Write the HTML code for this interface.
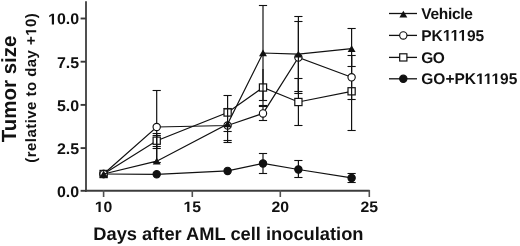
<!DOCTYPE html><html><head><meta charset="utf-8"><style>html,body{margin:0;padding:0;background:#fff;width:520px;height:246px;overflow:hidden}svg{display:block;will-change:transform}text{font-family:"Liberation Sans",sans-serif;font-weight:bold;fill:#111;text-rendering:geometricPrecision}.o{fill:transparent}</style></head><body>
<svg width="520" height="246" viewBox="0 0 520 246">
<g stroke="#505050" stroke-width="2" fill="none">
<line x1="86.0" y1="1.2" x2="86.0" y2="191.7"/>
<line x1="85.0" y1="190.7" x2="369.6" y2="190.7" stroke="#3c3c3c"/>
<line x1="80.6" y1="18.5" x2="86" y2="18.5" stroke="#383838" stroke-width="1.9"/>
<line x1="80.6" y1="61.7" x2="86" y2="61.7" stroke="#383838" stroke-width="1.9"/>
<line x1="80.6" y1="104.9" x2="86" y2="104.9" stroke="#383838" stroke-width="1.9"/>
<line x1="80.6" y1="148.1" x2="86" y2="148.1" stroke="#383838" stroke-width="1.9"/>
<line x1="80.6" y1="190.8" x2="86" y2="190.8" stroke="#383838" stroke-width="1.9"/>
<line x1="103.6" y1="190" x2="103.6" y2="197" stroke-width="1.6"/>
<line x1="192.3" y1="190" x2="192.3" y2="197" stroke-width="1.6"/>
<line x1="280.3" y1="190" x2="280.3" y2="197" stroke-width="1.6"/>
<line x1="369.3" y1="190" x2="369.3" y2="197" stroke-width="1.6"/>
</g>
<g transform="translate(79.2,24.4) scale(1.03,1)"><text id="t1" x="0" y="0" font-size="15.5" text-anchor="end"><tspan class="o">1</tspan>0.0</text><path d="M478,0 L478,1170 L140,959 L140,1180 L493,1409 L759,1409 L759,0 Z" transform="translate(-30.19,0.00) scale(0.007568,-0.007568)" fill="#111"/></g>
<g transform="translate(79.2,67.60000000000001) scale(1.03,1)"><text id="t2" x="0" y="0" font-size="15.5" text-anchor="end">7.5</text></g>
<g transform="translate(79.2,110.80000000000001) scale(1.03,1)"><text id="t3" x="0" y="0" font-size="15.5" text-anchor="end">5.0</text></g>
<g transform="translate(79.2,154.0) scale(1.03,1)"><text id="t4" x="0" y="0" font-size="15.5" text-anchor="end">2.5</text></g>
<g transform="translate(79.2,196.70000000000002) scale(1.03,1)"><text id="t5" x="0" y="0" font-size="15.5" text-anchor="end">0.0</text></g>
<g transform="translate(103.6,212.1) scale(1.04,1)"><text id="t6" x="0" y="0" font-size="15.2" text-anchor="middle"><tspan class="o">1</tspan>0</text><path d="M478,0 L478,1170 L140,959 L140,1180 L493,1409 L759,1409 L759,0 Z" transform="translate(-8.45,0.00) scale(0.007422,-0.007422)" fill="#111"/></g>
<g transform="translate(192.3,212.1) scale(1.04,1)"><text id="t7" x="0" y="0" font-size="15.2" text-anchor="middle"><tspan class="o">1</tspan>5</text><path d="M478,0 L478,1170 L140,959 L140,1180 L493,1409 L759,1409 L759,0 Z" transform="translate(-8.45,0.00) scale(0.007422,-0.007422)" fill="#111"/></g>
<g transform="translate(280.3,212.1) scale(1.04,1)"><text id="t8" x="0" y="0" font-size="15.2" text-anchor="middle">20</text></g>
<g transform="translate(369.3,212.1) scale(1.04,1)"><text id="t9" x="0" y="0" font-size="15.2" text-anchor="middle">25</text></g>
<g><text id="t10" x="93.3" y="240.3" font-size="18.3">Days after AML cell inoculation</text></g>
<g transform="translate(16.1,142.3) rotate(-90)"><text id="t11" x="0" y="0" font-size="20.5">Tumor size</text></g>
<g transform="translate(36.2,162.7) rotate(-90)"><text id="t12" x="0" y="0" font-size="15" letter-spacing="0.45">(relative to day +<tspan class="o">1</tspan>0)</text><path d="M478,0 L478,1170 L140,959 L140,1180 L493,1409 L759,1409 L759,0 Z" transform="translate(126.91,0.00) scale(0.007324,-0.007324)" fill="#111"/></g>
<polyline points="103.6,174 156.7,174.3 227.6,170.9 263.0,163.4 298.4,169.5 351.6,177.9" stroke="#111" stroke-width="1.2" fill="none"/>
<g stroke="#111" stroke-width="1.2" fill="none"><line x1="263.0" y1="153.5" x2="263.0" y2="173.5"/><line x1="258.9" y1="153.5" x2="267.1" y2="153.5" stroke-width="1.1"/><line x1="258.9" y1="173.5" x2="267.1" y2="173.5" stroke-width="1.1"/><line x1="298.4" y1="160.9" x2="298.4" y2="177.6"/><line x1="294.29999999999995" y1="160.5" x2="302.5" y2="160.5" stroke-width="1.1"/><line x1="294.29999999999995" y1="177.5" x2="302.5" y2="177.5" stroke-width="1.1"/><line x1="351.6" y1="173.8" x2="351.6" y2="182"/><line x1="347.5" y1="173.5" x2="355.70000000000005" y2="173.5" stroke-width="1.1"/><line x1="347.5" y1="182.5" x2="355.70000000000005" y2="182.5" stroke-width="1.1"/></g>
<circle cx="103.6" cy="174" r="3.65" fill="#111" stroke="#111" stroke-width="1.15"/>
<circle cx="156.7" cy="174.3" r="3.65" fill="#111" stroke="#111" stroke-width="1.15"/>
<circle cx="227.6" cy="170.9" r="3.65" fill="#111" stroke="#111" stroke-width="1.15"/>
<circle cx="263.0" cy="163.4" r="3.65" fill="#111" stroke="#111" stroke-width="1.15"/>
<circle cx="298.4" cy="169.5" r="3.65" fill="#111" stroke="#111" stroke-width="1.15"/>
<circle cx="351.6" cy="177.9" r="3.65" fill="#111" stroke="#111" stroke-width="1.15"/>
<polyline points="103.6,174 156.7,140.7 227.6,112.5 263.0,87.5 298.4,102.0 351.6,91.3" stroke="#111" stroke-width="1.2" fill="none"/>
<g stroke="#111" stroke-width="1.2" fill="none"><line x1="156.7" y1="133.5" x2="156.7" y2="148.0"/><line x1="152.6" y1="133.5" x2="160.79999999999998" y2="133.5" stroke-width="1.1"/><line x1="152.6" y1="148.5" x2="160.79999999999998" y2="148.5" stroke-width="1.1"/><line x1="227.6" y1="108.2" x2="227.6" y2="117.0"/><line x1="223.5" y1="108.5" x2="231.7" y2="108.5" stroke-width="1.1"/><line x1="263.0" y1="69.0" x2="263.0" y2="105.9"/><line x1="258.9" y1="105.5" x2="267.1" y2="105.5" stroke-width="1.1"/><line x1="298.4" y1="78.6" x2="298.4" y2="125.0"/><line x1="294.29999999999995" y1="78.5" x2="302.5" y2="78.5" stroke-width="1.1"/><line x1="294.29999999999995" y1="125.5" x2="302.5" y2="125.5" stroke-width="1.1"/><line x1="351.6" y1="55.6" x2="351.6" y2="130.9"/><line x1="347.5" y1="130.5" x2="355.70000000000005" y2="130.5" stroke-width="1.1"/></g>
<rect x="100.0" y="170.4" width="7.2" height="7.2" fill="#fff" stroke="#111" stroke-width="1.2"/>
<rect x="153.1" y="137.1" width="7.2" height="7.2" fill="#fff" stroke="#111" stroke-width="1.2"/>
<rect x="224.0" y="108.9" width="7.2" height="7.2" fill="#fff" stroke="#111" stroke-width="1.2"/>
<rect x="259.4" y="83.9" width="7.2" height="7.2" fill="#fff" stroke="#111" stroke-width="1.2"/>
<rect x="294.79999999999995" y="98.4" width="7.2" height="7.2" fill="#fff" stroke="#111" stroke-width="1.2"/>
<rect x="348.0" y="87.7" width="7.2" height="7.2" fill="#fff" stroke="#111" stroke-width="1.2"/>
<polyline points="103.6,174 156.7,127.0 227.6,125.5 263.0,113.4 298.4,57.5 351.6,77.3" stroke="#111" stroke-width="1.2" fill="none"/>
<g stroke="#111" stroke-width="1.2" fill="none"><line x1="156.7" y1="90.7" x2="156.7" y2="162.8"/><line x1="152.6" y1="90.5" x2="160.79999999999998" y2="90.5" stroke-width="1.1"/><line x1="152.6" y1="162.5" x2="160.79999999999998" y2="162.5" stroke-width="1.1"/><line x1="263.0" y1="106.5" x2="263.0" y2="120.2"/><line x1="258.9" y1="106.5" x2="267.1" y2="106.5" stroke-width="1.1"/><line x1="258.9" y1="120.5" x2="267.1" y2="120.5" stroke-width="1.1"/><line x1="298.4" y1="21.7" x2="298.4" y2="93.3"/><line x1="294.29999999999995" y1="21.5" x2="302.5" y2="21.5" stroke-width="1.1"/><line x1="294.29999999999995" y1="93.5" x2="302.5" y2="93.5" stroke-width="1.1"/><line x1="351.6" y1="55.2" x2="351.6" y2="99.3"/><line x1="347.5" y1="55.5" x2="355.70000000000005" y2="55.5" stroke-width="1.1"/><line x1="347.5" y1="99.5" x2="355.70000000000005" y2="99.5" stroke-width="1.1"/></g>
<circle cx="103.6" cy="174" r="3.65" fill="#fff" stroke="#111" stroke-width="1.15"/>
<circle cx="156.7" cy="127.0" r="3.65" fill="#fff" stroke="#111" stroke-width="1.15"/>
<circle cx="227.6" cy="125.5" r="3.65" fill="#fff" stroke="#111" stroke-width="1.15"/>
<circle cx="263.0" cy="113.4" r="3.65" fill="#fff" stroke="#111" stroke-width="1.15"/>
<circle cx="298.4" cy="57.5" r="3.65" fill="#fff" stroke="#111" stroke-width="1.15"/>
<circle cx="351.6" cy="77.3" r="3.65" fill="#fff" stroke="#111" stroke-width="1.15"/>
<polyline points="103.6,174 156.7,161.2 227.6,124.0 263.0,53 298.4,54.2 351.6,48.6" stroke="#111" stroke-width="1.2" fill="none"/>
<g stroke="#111" stroke-width="1.2" fill="none"><line x1="156.7" y1="135.4" x2="156.7" y2="161.2"/><line x1="152.6" y1="135.5" x2="160.79999999999998" y2="135.5" stroke-width="1.1"/><line x1="152.6" y1="146.5" x2="160.79999999999998" y2="146.5" stroke-width="1.1"/><line x1="227.6" y1="95.4" x2="227.6" y2="142.8"/><line x1="223.5" y1="95.5" x2="231.7" y2="95.5" stroke-width="1.1"/><line x1="223.5" y1="131.5" x2="231.7" y2="131.5" stroke-width="1.1"/><line x1="223.5" y1="140.5" x2="231.7" y2="140.5" stroke-width="1.1"/><line x1="223.5" y1="142.5" x2="231.7" y2="142.5" stroke-width="1.1"/><line x1="263.0" y1="5.2" x2="263.0" y2="100.4"/><line x1="258.9" y1="5.5" x2="267.1" y2="5.5" stroke-width="1.1"/><line x1="258.9" y1="100.5" x2="267.1" y2="100.5" stroke-width="1.1"/><line x1="298.4" y1="16.7" x2="298.4" y2="91.3"/><line x1="294.29999999999995" y1="16.5" x2="302.5" y2="16.5" stroke-width="1.1"/><line x1="294.29999999999995" y1="91.5" x2="302.5" y2="91.5" stroke-width="1.1"/><line x1="351.6" y1="28.0" x2="351.6" y2="66.8"/><line x1="347.5" y1="28.5" x2="355.70000000000005" y2="28.5" stroke-width="1.1"/><line x1="347.5" y1="66.5" x2="355.70000000000005" y2="66.5" stroke-width="1.1"/></g>
<path d="M103.6,170.6 L107.55,177.3 L99.64999999999999,177.3 Z" fill="#111"/>
<path d="M156.7,157.79999999999998 L160.64999999999998,164.5 L152.75,164.5 Z" fill="#111"/>
<path d="M227.6,120.6 L231.54999999999998,127.3 L223.65,127.3 Z" fill="#111"/>
<path d="M263.0,49.6 L266.95,56.3 L259.05,56.3 Z" fill="#111"/>
<path d="M298.4,50.800000000000004 L302.34999999999997,57.5 L294.45,57.5 Z" fill="#111"/>
<path d="M351.6,45.2 L355.55,51.9 L347.65000000000003,51.9 Z" fill="#111"/>
<g stroke="#111" stroke-width="1.3">
<line x1="389" y1="13.5" x2="417" y2="13.5"/>
<line x1="389" y1="35.4" x2="417" y2="35.4"/>
<line x1="389" y1="57.4" x2="417" y2="57.4"/>
<line x1="389" y1="78.8" x2="417" y2="78.8"/>
</g>
<path d="M403.35,10.7 L407.3,17.4 L399.40000000000003,17.4 Z" fill="#111"/>
<circle cx="403.3" cy="35.4" r="3.65" fill="#fff" stroke="#111" stroke-width="1.15"/>
<rect x="399.7" y="53.8" width="7.2" height="7.2" fill="#fff" stroke="#111" stroke-width="1.2"/>
<circle cx="403.3" cy="78.8" r="3.65" fill="#111" stroke="#111" stroke-width="1.15"/>
<g><text id="t13" x="421.3" y="18.8" font-size="15.5" textLength="51.6" lengthAdjust="spacing">Vehicle</text></g>
<g><text id="t14" x="421.3" y="40.699999999999996" font-size="15.5" textLength="62.8" lengthAdjust="spacing">PK<tspan class="o">1</tspan><tspan class="o">1</tspan><tspan class="o">1</tspan>95</text><path d="M478,0 L478,1170 L140,959 L140,1180 L493,1409 L759,1409 L759,0 Z" transform="translate(442.80,40.70) scale(0.007568,-0.007568)" fill="#111"/><path d="M478,0 L478,1170 L140,959 L140,1180 L493,1409 L759,1409 L759,0 Z" transform="translate(450.54,40.70) scale(0.007568,-0.007568)" fill="#111"/><path d="M478,0 L478,1170 L140,959 L140,1180 L493,1409 L759,1409 L759,0 Z" transform="translate(458.28,40.70) scale(0.007568,-0.007568)" fill="#111"/></g>
<g><text id="t15" x="421.3" y="62.699999999999996" font-size="15.5" textLength="23.6" lengthAdjust="spacing">GO</text></g>
<g><text id="t16" x="421.3" y="84.1" font-size="15.5" textLength="96.0" lengthAdjust="spacing">GO+PK<tspan class="o">1</tspan><tspan class="o">1</tspan><tspan class="o">1</tspan>95</text><path d="M478,0 L478,1170 L140,959 L140,1180 L493,1409 L759,1409 L759,0 Z" transform="translate(475.96,84.10) scale(0.007568,-0.007568)" fill="#111"/><path d="M478,0 L478,1170 L140,959 L140,1180 L493,1409 L759,1409 L759,0 Z" transform="translate(483.71,84.10) scale(0.007568,-0.007568)" fill="#111"/><path d="M478,0 L478,1170 L140,959 L140,1180 L493,1409 L759,1409 L759,0 Z" transform="translate(491.46,84.10) scale(0.007568,-0.007568)" fill="#111"/></g>
</svg></body></html>
